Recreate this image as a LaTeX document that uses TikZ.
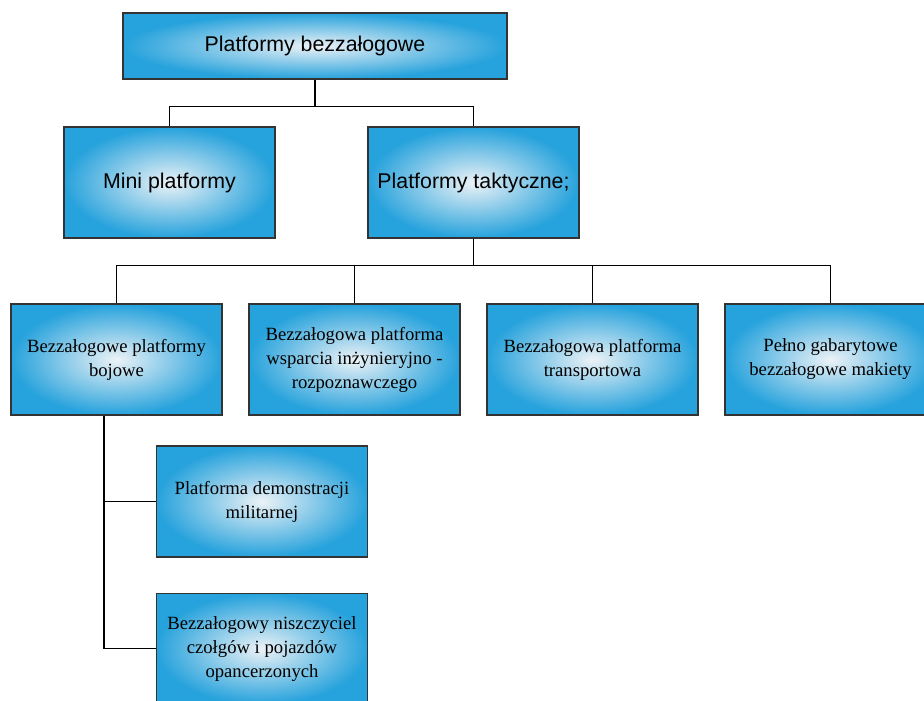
\documentclass[tikz,border=0pt]{standalone}
\usepackage{fontspec}
\setmainfont{Liberation Serif}
\setsansfont{Liberation Sans}
\usetikzlibrary{positioning, calc}

\definecolor{boxout}{RGB}{38,162,220}
\definecolor{boxin}{RGB}{236,242,246}

\begin{document}
\begin{tikzpicture}[
  x=0.75pt, y=-0.75pt,
  box/.style={draw=black!80, line width=0.8pt, shading=radial,
    inner color=boxin, outer color=boxout, align=center,
    minimum width=158.25pt, minimum height=83.25pt, inner sep=2pt,
    font=\fontsize{14}{18}\selectfont},
  bigbox/.style={box, font=\sffamily\fontsize{16}{19}\selectfont},
  topbox/.style={bigbox, minimum width=288pt, minimum height=49.5pt},
  link/.style={draw=black, line width=1pt}
]
\useasboundingbox (0,0) rectangle (924,700);

% poziom 1 i 2
\node[topbox] (top) at (315,46) {Platformy bezzałogowe};
\node[bigbox] (mini) at (169.5,182.5) {Mini platformy};
\node[bigbox] (takt) at (473.5,182.5) {Platformy taktyczne;};

% poziom 3
\node[box] (bojowe) at (116.5,359.5) {Bezzałogowe platformy\\bojowe};
\node[box, right=19.45pt of bojowe] (wsparcie) {Bezzałogowa platforma\\wsparcia inżynieryjno -\\rozpoznawczego};
\node[box, right=19.45pt of wsparcie] (transport) {Bezzałogowa platforma\\transportowa};
\node[box, right=19.45pt of transport] (makiety) {Pełno gabarytowe\\bezzałogowe makiety};

% poziom 4
\node[box] (demo) at (262,501.5) {Platforma demonstracji\\militarnej};
\node[box, below=26.4pt of demo] (niszcz) {Bezzałogowy niszczyciel\\czołgów i pojazdów\\opancerzonych};

% polaczenia
\coordinate (j1) at ([yshift=-20.25pt]top.south);
\coordinate (j2) at ([yshift=-20.25pt]takt.south);
\coordinate (trunk) at ([xshift=-9.4pt]bojowe.south);

\draw[link] (top.south) -- (j1) -| (mini.north);
\draw[link] (j1) -| (takt.north);

\draw[link] (takt.south) -- (j2) -| (bojowe.north);
\draw[link] (j2) -| (wsparcie.north);
\draw[link] (j2) -| (transport.north);
\draw[link] (j2) -| (makiety.north);

\draw[link] (trunk) |- (demo.west);
\draw[link] (trunk) |- (niszcz.west);

\end{tikzpicture}
\end{document}
